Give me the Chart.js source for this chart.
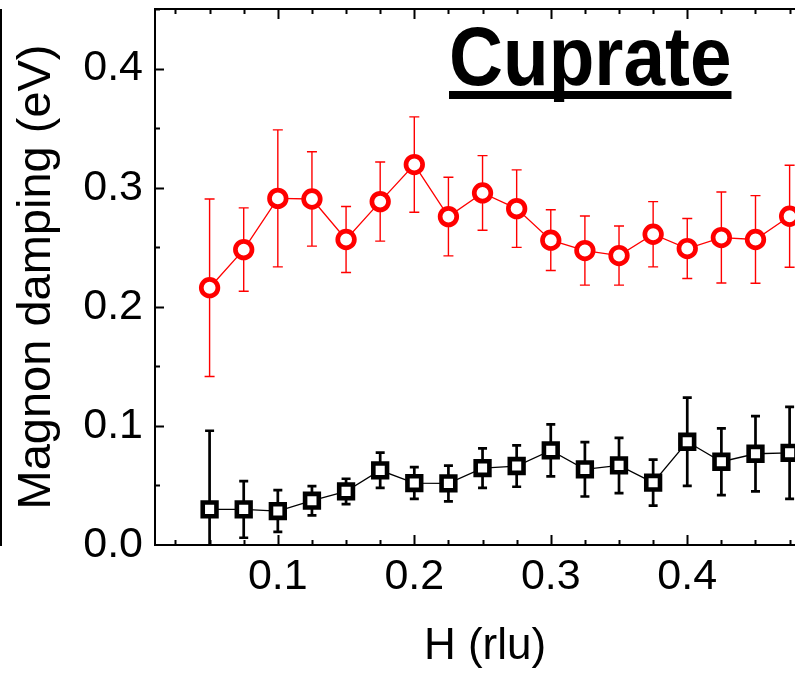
<!DOCTYPE html>
<html>
<head>
<meta charset="utf-8">
<script src="https://cdn.jsdelivr.net/npm/chart.js@4.4.1/dist/chart.umd.min.js"></script>
<style>
  html, body { margin: 0; overflow: hidden; background: #fff; }
  body { width: 795px; height: 673px; position: relative; }
  #caja { position: absolute; left: 0; top: 0; width: 815px; height: 673px; }
  #titulo {
    position: absolute; left: 449px; top: 14px;
    font: bold 84px "Liberation Sans", Arial, sans-serif; line-height: 1;
    transform: scaleX(0.89); transform-origin: left top;
    text-decoration: underline; text-decoration-thickness: 8px;
    text-underline-offset: 6px; text-decoration-skip-ink: none;
    white-space: nowrap; color: #000;
  }
  #panelPrevio { position: absolute; left: 0; top: 9px; width: 2px; height: 537px; background: #000; }
</style>
</head>
<body>
<div id="panelPrevio"></div>
<div id="caja"><canvas id="grafico"></canvas></div>
<div id="titulo">Cuprate</div>

<script>
// H (rlu)
const hValores = [0.05, 0.075, 0.1, 0.125, 0.15, 0.175, 0.2, 0.225, 0.25, 0.275,
                  0.3, 0.325, 0.35, 0.375, 0.4, 0.425, 0.45, 0.475];

// serie roja (circulos)
const rojoY   = [0.216, 0.248, 0.291, 0.2905, 0.2565, 0.2883, 0.3194, 0.2757, 0.2956, 0.2824,
                 0.2559, 0.2472, 0.243, 0.2609, 0.2489, 0.2581, 0.2565, 0.276];
const rojoErr = [0.0745, 0.035, 0.0575, 0.0396, 0.0277, 0.0332, 0.040, 0.033, 0.0313, 0.0325,
                 0.0255, 0.029, 0.0248, 0.0274, 0.0252, 0.0382, 0.0368, 0.0428];

// serie negra (cuadrados)
const negroY   = [0.0299, 0.0299, 0.0285, 0.0372, 0.045, 0.0627, 0.052, 0.0517, 0.0646, 0.0663,
                  0.0794, 0.0635, 0.0668, 0.0523, 0.0867, 0.0699, 0.0766, 0.0774];
const negroErr = [0.066, 0.0238, 0.0175, 0.0123, 0.0106, 0.0148, 0.0133, 0.015, 0.0166, 0.0174,
                  0.0218, 0.0228, 0.0232, 0.0193, 0.037, 0.028, 0.0316, 0.0386];

const xTicks = [0.1, 0.2, 0.3, 0.4];
const yTicks = [0.0, 0.1, 0.2, 0.3, 0.4];

const fuente = "'Liberation Sans', Arial, sans-serif";

// barras de error, se dibujan debajo de los marcadores
const barrasError = {
  id: 'barrasError',
  beforeDatasetsDraw(chart) {
    const { ctx, chartArea: a, scales: { x, y } } = chart;
    ctx.save();
    ctx.beginPath();
    ctx.rect(a.left, a.top, a.right - a.left, a.bottom - a.top);
    ctx.clip();
    chart.data.datasets.forEach(ds => {
      ctx.strokeStyle = ds.borderColor;
      ctx.lineWidth = ds.errAncho;
      ds.errores.forEach((e, i) => {
        const px = x.getPixelForValue(hValores[i]);
        const arriba = y.getPixelForValue(ds.data[i].y + e);
        const abajo = y.getPixelForValue(ds.data[i].y - e);
        const c = ds.errCapa;
        ctx.beginPath();
        ctx.moveTo(px, arriba); ctx.lineTo(px, abajo);
        ctx.moveTo(px - c, arriba); ctx.lineTo(px + c, arriba);
        ctx.moveTo(px - c, abajo); ctx.lineTo(px + c, abajo);
        ctx.stroke();
      });
    });
    ctx.restore();
  }
};

// marco superior y marcas hacia adentro
const marcas = {
  id: 'marcas',
  beforeDatasetsDraw(chart) {
    const { ctx, chartArea: a, scales: { x, y } } = chart;
    ctx.save();
    ctx.strokeStyle = '#000';
    ctx.lineWidth = 2;
    ctx.beginPath();
    ctx.moveTo(a.left - 1, a.top);
    ctx.lineTo(a.right, a.top);
    ctx.stroke();

    ctx.beginPath();
    for (let k = 1; k * 0.025 <= x.max; k++) {
      const v = k * 0.025;
      if (v < x.min) continue;
      const largo = k % 4 === 0 ? 10 : 5;
      const px = Math.round(x.getPixelForValue(v)) + 0.5;
      ctx.moveTo(px, a.bottom); ctx.lineTo(px, a.bottom - largo);
      ctx.moveTo(px, a.top); ctx.lineTo(px, a.top + largo);
    }
    for (let k = 1; k * 0.05 <= y.max + 1e-9; k++) {
      const largo = k % 2 === 0 ? 9 : 5;
      const py = Math.round(y.getPixelForValue(k * 0.05)) + 0.5;
      ctx.moveTo(a.left, py); ctx.lineTo(a.left + largo, py);
    }
    ctx.stroke();
    ctx.restore();
  }
};

new Chart(document.getElementById("grafico"), {
  type: 'line',
  data: {
    datasets: [
      {
        data: hValores.map((h, i) => ({ x: h, y: rojoY[i] })),
        errores: rojoErr, errAncho: 1.4, errCapa: 5,
        borderColor: '#ff0000',
        borderWidth: 1.3,
        pointStyle: 'circle',
        pointRadius: 8.3,
        pointBorderWidth: 4.7,
        pointBackgroundColor: '#ffffff',
        pointBorderColor: '#ff0000',
        clip: false
      },
      {
        data: hValores.map((h, i) => ({ x: h, y: negroY[i] })),
        errores: negroErr, errAncho: 2.7, errCapa: 4.5,
        borderColor: '#000000',
        borderWidth: 1.3,
        pointStyle: 'rect',
        pointRadius: 9.7,
        pointBorderWidth: 4.6,
        pointBackgroundColor: '#ffffff',
        pointBorderColor: '#000000',
        clip: false
      }
    ]
  },
  options: {
    responsive: true,
    maintainAspectRatio: false,
    animation: false,
    events: [],
    layout: { autoPadding: false, padding: { top: 9, right: 0, left: 0, bottom: 0 } },
    plugins: { legend: { display: false }, tooltip: { enabled: false } },
    scales: {
      x: {
        type: 'linear',
        min: 0.01,
        max: 0.4936,
        afterFit: s => { s.height = 128; s.paddingLeft = 0; s.paddingRight = 0; },
        afterBuildTicks: s => { s.ticks = xTicks.map(v => ({ value: v })); },
        grid: { display: false, drawTicks: false },
        border: { display: true, color: '#000', width: 2 },
        ticks: {
          padding: 6,
          color: '#000',
          font: { family: fuente, size: 43 },
          callback: v => v.toFixed(1)
        },
        title: {
          display: true,
          text: 'H (rlu)',
          color: '#000',
          font: { family: fuente, size: 44 },
          padding: { top: 0, bottom: 0 }
        }
      },
      y: {
        min: 0,
        max: 0.45,
        afterFit: s => { s.width = 155; s.paddingTop = 0; s.paddingBottom = 0; },
        afterBuildTicks: s => { s.ticks = yTicks.map(v => ({ value: v })); },
        grid: { display: false, drawTicks: false },
        border: { display: true, color: '#000', width: 2 },
        ticks: {
          padding: 12,
          color: '#000',
          font: { family: fuente, size: 43 },
          callback: v => v.toFixed(1)
        },
        title: {
          display: true,
          text: 'Magnon damping (eV)',
          color: '#000',
          font: { family: fuente, size: 47 },
          padding: { top: 9, bottom: 0 }
        }
      }
    }
  },
  plugins: [barrasError, marcas]
});
</script>
</body>
</html>
